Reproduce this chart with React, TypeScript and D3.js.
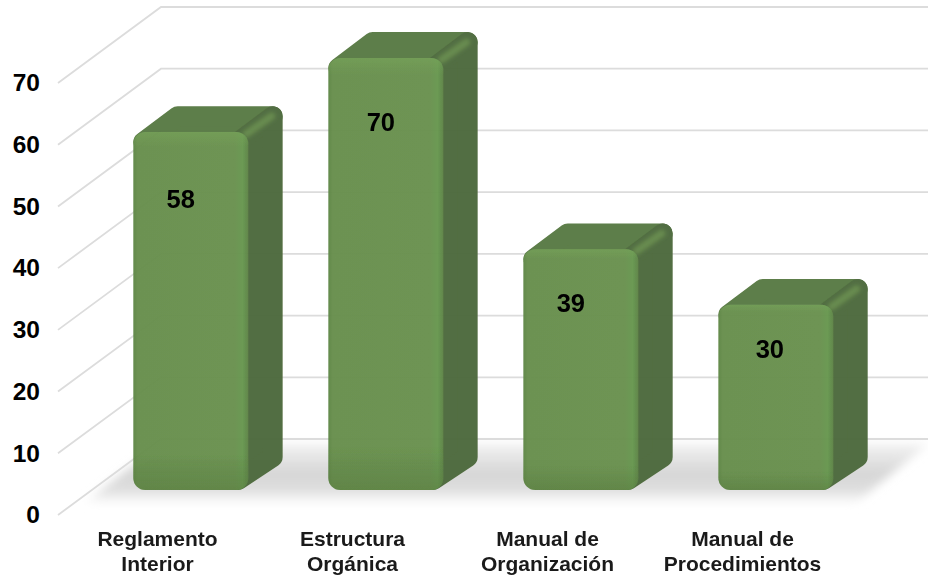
import * as d3 from "d3";
import { useEffect, useRef } from "react";

const categories = ["Reglamento Interior", "Estructura Orgánica", "Manual de Organización", "Manual de Procedimientos"];
const categoryLines = [["Reglamento", "Interior"], ["Estructura", "Orgánica"], ["Manual de", "Organización"], ["Manual de", "Procedimientos"]];
const values = [58, 70, 39, 30];
const yTicks = [0, 10, 20, 30, 40, 50, 60, 70];
// labels were hand placed in the original, they don't sit at a fixed distance from the bar top
const labelDrop = [67, 64, 54, 44];
const labelShift = [-10, -5, -10, -6];

const width = 928;
const height = 576;
const depthX = 101;
const depthY = 76;
const barFront = 0.33;
const barBack = 0.67;
const radius = 10;

const x = d3.scaleBand<string>().domain(categories).range([60, 840]).paddingInner(80 / 195).paddingOuter(0.205);
const y = d3.scaleLinear().domain([0, 70]).range([515, 83]);

const project = (px: number, value: number, depth: number): [number, number] => [
  px + depth * depthX,
  y(value) - depth * depthY,
];
const poly = d3.line().curve(d3.curveLinearClosed);

export default function App() {
  const axisRef = useRef<SVGGElement | null>(null);

  useEffect(() => {
    const g = d3.select(axisRef.current);
    g.call(d3.axisLeft(y).tickValues(yTicks).tickSize(0).tickPadding(0) as any);
    g.select(".domain").remove();
    g.selectAll("text")
      .attr("dy", "0.32em")
      .attr("fill", "#000")
      .style("font", "bold 24.5px 'Liberation Sans'");
  }, []);

  const floor = [
    [84, 503],
    [160, 444],
    [928, 444],
    [856, 503],
  ] as [number, number][];

  return (
    <svg width={width} height={height} style={{ position: "absolute", left: 0, top: 0, background: "#fff" }}>
      <defs>
        <linearGradient id="floorFill" x1="0" y1="0" x2="0" y2="1">
          <stop offset="0" stopColor="#f2f2f2" />
          <stop offset="0.5" stopColor="#d6d6d6" />
          <stop offset="0.78" stopColor="#dedede" />
          <stop offset="1" stopColor="#fdfdfd" />
        </linearGradient>
        <linearGradient id="frontFill" x1="0" y1="0" x2="1" y2="0">
          <stop offset="0" stopColor="#5f8746" />
          <stop offset="0.04" stopColor="#688f4e" />
          <stop offset="0.88" stopColor="#6a914f" />
          <stop offset="0.95" stopColor="#679750" />
          <stop offset="1" stopColor="#5c8345" />
        </linearGradient>
        <linearGradient id="frontShade" x1="0" y1="0" x2="0" y2="1">
          <stop offset="0" stopColor="#72a054" stopOpacity="0.6" />
          <stop offset="0.04" stopColor="#72a054" stopOpacity="0" />
          <stop offset="0.9" stopColor="#4f7538" stopOpacity="0" />
          <stop offset="1" stopColor="#4f7538" stopOpacity="0.45" />
        </linearGradient>
        <filter id="soft" filterUnits="userSpaceOnUse" x="0" y="0" width={width} height={height}>
          <feGaussianBlur stdDeviation="0.7" />
        </filter>
        <filter id="lineSoft" filterUnits="userSpaceOnUse" x="0" y="0" width={width} height={height}>
          <feGaussianBlur stdDeviation="0.5" />
        </filter>
        <filter id="sheen" filterUnits="userSpaceOnUse" x="0" y="0" width={width} height={height}>
          <feGaussianBlur stdDeviation="2" />
        </filter>
        <filter id="floorBlur" filterUnits="userSpaceOnUse" x="0" y="0" width={width} height={height}>
          <feGaussianBlur stdDeviation="5" />
        </filter>
      </defs>

      <path d={poly(floor) ?? ""} fill="url(#floorFill)" filter="url(#floorBlur)" />

      <g filter="url(#lineSoft)">
        {yTicks.map((t) => {
          const front = project(60, t, 0);
          const back = project(60, t, 1);
          return (
            <polyline
              key={t}
              points={`${front[0] - 2},${front[1]} ${back[0]},${back[1]} ${width},${back[1]}`}
              fill="none"
              stroke="#dcdcdc"
              strokeWidth={1.8}
            />
          );
        })}
      </g>

      {categories.map((c, i) => {
        const x0 = x(c)!;
        const x1 = x0 + x.bandwidth();
        const [fx0, fy0] = project(x0, values[i], barFront);
        const [fx1, fy1] = project(x1, 0, barFront);
        const [bx1, by0] = project(x1, values[i], barBack);
        const [, by1] = project(x1, 0, barBack);
        const bx0 = project(x0, values[i], barBack)[0];
        const r = radius;
        return (
          <g key={c} opacity={0.97}>
            <path
              d={poly([
                [fx0 + r, fy0 + r],
                [bx0 + r, by0 + r],
                [bx1 - r, by0 + r],
                [fx1 - r, fy0 + r],
              ]) ?? ""}
              fill="#597a44"
              stroke="#597a44"
              strokeWidth={r * 2}
              strokeLinejoin="round"
              filter="url(#soft)"
            />
            <path
              d={poly([
                [fx1 - r, fy0 + r],
                [bx1 - r, by0 + r],
                [bx1 - r, by1 - r + 3],
                [fx1 - r, fy1 - r],
              ]) ?? ""}
              fill="#4e6a3c"
              stroke="#4e6a3c"
              strokeWidth={r * 2}
              strokeLinejoin="round"
              filter="url(#soft)"
            />
            <line
              x1={fx1 - 2}
              y1={fy0 + 2}
              x2={bx1 - 11}
              y2={by0 + 10}
              stroke="#658a4b"
              strokeWidth={7}
              strokeLinecap="round"
              filter="url(#sheen)"
            />
            <rect
              x={fx0}
              y={fy0}
              width={fx1 - fx0}
              height={fy1 - fy0}
              rx={r + 2}
              fill="url(#frontFill)"
              filter="url(#soft)"
            />
            <rect
              x={fx0}
              y={fy0}
              width={fx1 - fx0}
              height={fy1 - fy0}
              rx={r + 2}
              fill="url(#frontShade)"
              filter="url(#soft)"
            />
          </g>
        );
      })}

      <g ref={axisRef} transform="translate(40,0)" />

      {categories.map((c, i) => {
        const x0 = x(c)!;
        const [fx0, fy0] = project(x0, values[i], barFront);
        return (
          <text
            key={c}
            x={fx0 + x.bandwidth() / 2 + labelShift[i]}
            y={fy0 + labelDrop[i]}
            dy="0.36em"
            textAnchor="middle"
            fontFamily="Liberation Sans"
            fontWeight="bold"
            fontSize={25.5}
            fill="#000"
          >
            {values[i]}
          </text>
        );
      })}

      {categories.map((c, i) => (
        <text
          key={c}
          textAnchor="middle"
          fontFamily="Liberation Sans"
          fontWeight="bold"
          fontSize={21}
          fill="#1a1a1a"
        >
          {categoryLines[i].map((line, j) => (
            <tspan key={line} x={x(c)! + x.bandwidth() / 2} y={546 + j * 25}>
              {line}
            </tspan>
          ))}
        </text>
      ))}
    </svg>
  );
}
